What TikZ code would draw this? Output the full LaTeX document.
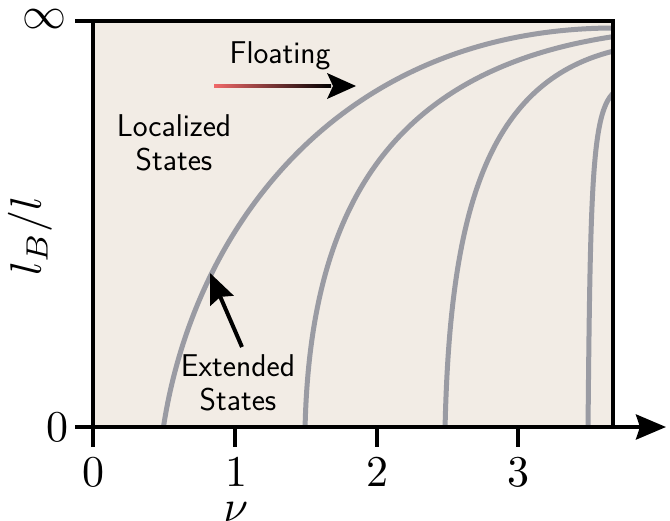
\documentclass[tikz,border=0pt]{standalone}
\usetikzlibrary{arrows.meta}
\definecolor{bgfill}{HTML}{F2ECE5}
\definecolor{curvegray}{HTML}{9A9BA3}
\definecolor{floatred}{HTML}{F06868}
\tikzset{
  curve/.style={draw=curvegray, line width=5pt, line cap=round},
  frame/.style={line width=4pt, black},
  tickline/.style={line width=4pt, black},
  lab/.style={font=\fontsize{31.5}{34}\selectfont\sffamily, align=center, inner sep=0pt},
  mlab/.style={scale=4.4, inner sep=0pt},
}
\begin{document}
\begin{tikzpicture}[x=1pt, y=-1pt]
\useasboundingbox (0,0) rectangle (670,520);
% background
\fill[bgfill] (93,21) rectangle (613,427);
% curves
\begin{scope}
\clip (93,21) rectangle (613,427);
\draw[curve] (163,430) .. controls (193,227) and (340,30) .. (611,28);
\draw[curve] (305,430) .. controls (310,195) and (400,45) .. (680,30);
\draw[curve] (445,430) .. controls (450,200) and (490,60) .. (650,45);
\draw[curve] (588,430) .. controls (591,110) and (593,85) .. (640,85);
\end{scope}
% frame
\draw[frame] (75,21) -- (615,21);
\draw[frame] (613,19) -- (613,429);
% axes
\coordinate (o) at (93,427);
\coordinate (xend) at (666,427);
\coordinate (ybot) at (93,447);
\coordinate (ytop) at (93,21);
\draw[tickline] (ybot) -- (ytop);
\draw[tickline, -{Stealth[length=30pt, width=25pt, inset=4pt]}] (75,427) -- (xend);
\foreach \x in {235,377,518} \draw[tickline] (\x,427) -- (\x,447);
% tick labels
\node[mlab] (t0) at (93,472) {$0$};
\node[mlab] (t1) at (236,472) {$1$};
\node[mlab] (t2) at (377,472) {$2$};
\node[mlab] (t3) at (518,472) {$3$};
\node[mlab, anchor=north] (nu) at (236,502) {$\nu$};
\node[mlab] (yinf) at (44,19) {$\infty$};
\node[mlab] (y0) at (57,427) {$0$};
\node[mlab, rotate=90] (ylab) at (30,236) {$l_B/l$};
% texts
\node[lab, anchor=base] (float) at (280,63) {Floating};
\node[lab] (loc) at (174,143) {Localized\\States};
\node[lab] (ext) at (238,383) {Extended\\States};
% floating arrow
\coordinate (fa) at (214,86);
\coordinate (fb) at (330,86);
\coordinate (fc) at (356,86);
\shade[left color=floatred, right color=black] (214,84.5) rectangle (331,87.5);
\fill[black] (fc) -- (327,73) -- (333,86) -- (327,99) -- cycle;
% extended arrow
\coordinate (ea) at (242,347);
\coordinate (eb) at (210,273);
\draw[line width=4pt, -{Stealth[length=30pt, width=25pt, inset=4pt]}] (ea) -- (eb);
\end{tikzpicture}
\end{document}
